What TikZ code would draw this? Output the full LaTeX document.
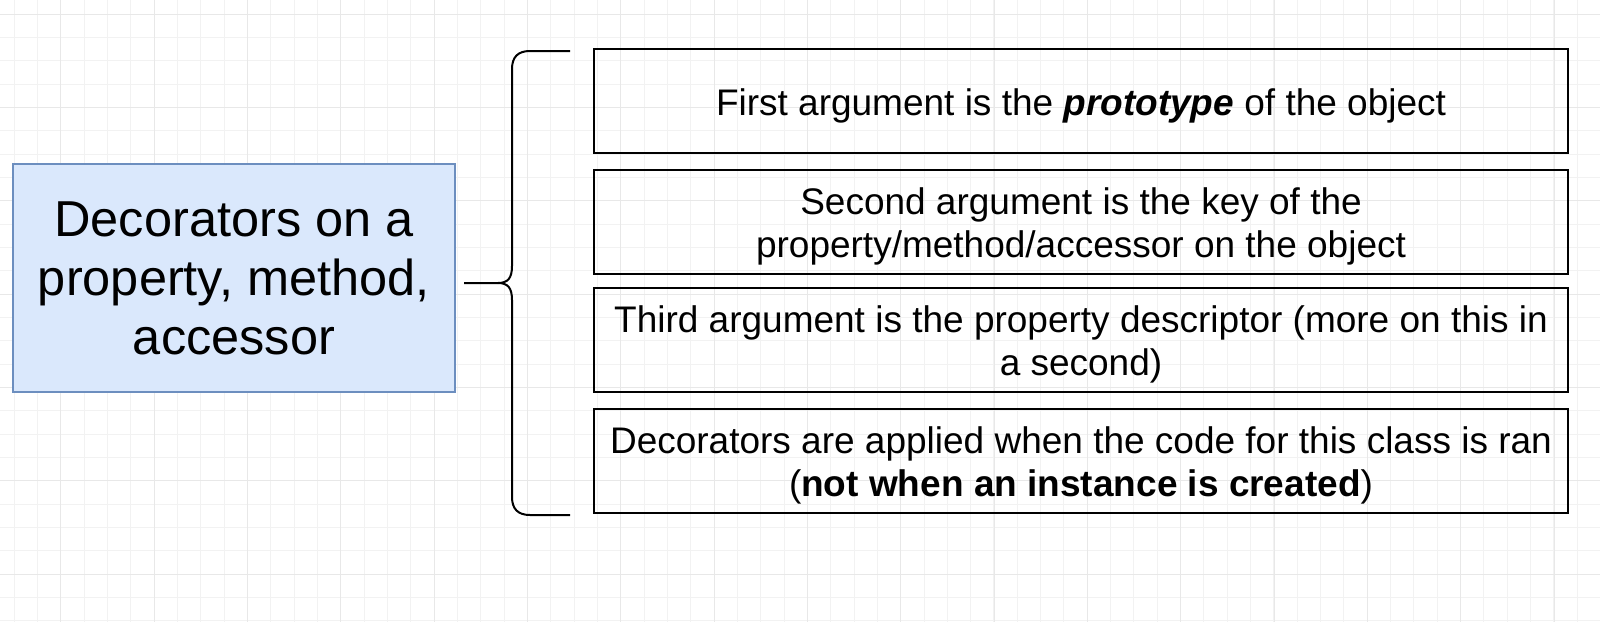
\documentclass[tikz,border=0pt]{standalone}
\usepackage{fontspec}
\setmainfont{Liberation Sans}
\definecolor{mainfill}{RGB}{218,232,252}
\definecolor{maindraw}{RGB}{108,142,191}
\newcommand{\tstrut}{\rule{0pt}{36pt}}
\begin{document}
\begin{tikzpicture}[x=1pt,y=-1pt,
  gridminor/.style={draw=black!5, line width=1pt},
  gridmajor/.style={draw=black!9, line width=1pt},
  mainbox/.style={draw=maindraw, fill=mainfill, line width=1.5pt,
    minimum width=442pt, minimum height=228pt, inner sep=0pt, align=center,
    font=\fontsize{50.5}{59}\selectfont},
  argbox/.style={draw=black, line width=2.2pt, minimum width=974pt, minimum height=104pt,
    inner sep=0pt, align=center, font=\fontsize{37}{42.5}\selectfont},
  bracestyle/.style={draw=black, line width=2pt}
]
\useasboundingbox (0,0) rectangle (1600,622);
\fill[white] (0,0) rectangle (1600,622);
% grid
\foreach \i in {0,...,68} {
  \draw[gridminor] ({14+23.333*\i},0) -- ({14+23.333*\i},622);
}
\foreach \i in {0,...,26} {
  \draw[gridminor] (0,{14+23.333*\i}) -- (1600,{14+23.333*\i});
}
\foreach \i in {0,...,16} {
  \draw[gridmajor] ({60.7+93.333*\i},0) -- ({60.7+93.333*\i},622);
}
\foreach \i in {0,...,6} {
  \draw[gridmajor] (0,{14+93.333*\i}) -- (1600,{14+93.333*\i});
}
% nodes
\node[mainbox] (L) at (234,278) {Decorators on a\\property, method,\\accessor};
\node[argbox] (b1) at (1081,101) {\tstrut First argument is the \textbf{\textit{prototype}} of the object};
\node[argbox] (b2) at (1081,222) {\tstrut Second argument is the key of the\\property/method/accessor on the object};
\node[argbox] (b3) at (1081,340) {\tstrut Third argument is the property descriptor (more on this in\\a second)};
\node[argbox] (b4) at (1081,461) {\tstrut Decorators are applied when the code for this class is ran\\(\textbf{not when an instance is created})};
% brace
\coordinate (tail) at (464,283);
\coordinate (cusp) at (498,283);
\coordinate (topend) at (570,51);
\coordinate (botend) at (570,515);
\draw[bracestyle] (tail) -- (cusp)
  .. controls (508,283) and (512,278) .. (512,266)
  -- (512,69)
  .. controls (512,57) and (518,51) .. (530,51)
  -- (topend);
\draw[bracestyle] (cusp)
  .. controls (508,283) and (512,288) .. (512,300)
  -- (512,497)
  .. controls (512,509) and (518,515) .. (530,515)
  -- (botend);
\end{tikzpicture}
\end{document}
